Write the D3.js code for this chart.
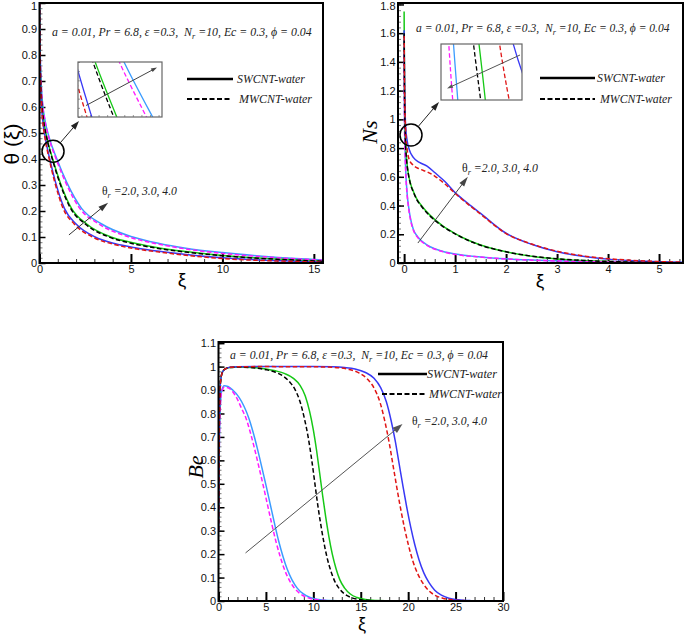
<!DOCTYPE html>
<html><head><meta charset="utf-8">
<script src="https://cdn.jsdelivr.net/npm/d3@7"></script>
<style>body{margin:0;background:#fff} svg{display:block} text{white-space:pre}</style>
</head><body>
<svg id="c" width="685" height="634"></svg>
<script>
// ---------------- DATA ----------------
const FLUIDS = ['SWCNT-water', 'MWCNT-water'];
const THETA_R = ['2.0', '3.0', '4.0'];
const PARAMS = ['a = 0.01, Pr = 6.8, \u03B5 =0.3,  N', 'r', ' =10, Ec = 0.3, \u03D5 = 0.04'];

// Panel (a): theta(xi)
const theta_SW_2 = [[0,1],[0.0135,0.9],[0.04,0.8],[0.08,0.71],[0.16,0.62],[0.3,0.55],[0.54,0.48],[0.95,0.4],[1.49,0.31],[2.3,0.21],[3.4,0.15],[5.1,0.1],[6.55,0.075],[8,0.057],[10,0.04],[12,0.027],[14,0.017],[15.5,0.012]];
const theta_MW_2 = [[0,1],[0.013,0.9],[0.039,0.8],[0.078,0.71],[0.156,0.62],[0.29,0.55],[0.52,0.48],[0.91,0.4],[1.43,0.31],[2.2,0.21],[3.25,0.15],[4.9,0.1],[6.55,0.072],[8,0.054],[10,0.037],[12,0.025],[14,0.016],[15.5,0.011]];
const theta_SW_3 = [[0,1],[0.0103,0.9],[0.031,0.8],[0.062,0.71],[0.124,0.62],[0.227,0.55],[0.41,0.48],[0.72,0.4],[1.13,0.31],[1.75,0.21],[2.58,0.15],[3.9,0.1],[5.1,0.078],[6.55,0.058],[8,0.044],[10,0.029],[12,0.019],[14,0.012],[15.5,0.008]];
const theta_MW_3 = [[0,1],[0.01,0.9],[0.03,0.8],[0.06,0.71],[0.12,0.62],[0.22,0.55],[0.4,0.48],[0.7,0.4],[1.1,0.31],[1.7,0.21],[2.5,0.15],[3.8,0.1],[5,0.076],[6.5,0.056],[8,0.042],[10,0.028],[12,0.018],[14,0.011],[15.5,0.007]];
const theta_SW_4 = [[0,1],[0.008,0.9],[0.024,0.8],[0.048,0.71],[0.096,0.62],[0.176,0.55],[0.32,0.48],[0.56,0.4],[0.88,0.31],[1.36,0.21],[2.0,0.15],[3.04,0.1],[4.1,0.075],[5.3,0.058],[6.55,0.045],[8,0.033],[10,0.02],[12,0.012],[14,0.007],[15.5,0.004]];
const theta_MW_4 = [[0,1],[0.0076,0.9],[0.023,0.8],[0.046,0.71],[0.091,0.62],[0.167,0.55],[0.3,0.48],[0.53,0.4],[0.84,0.31],[1.29,0.21],[1.9,0.15],[2.9,0.1],[4.0,0.073],[5.2,0.055],[6.55,0.042],[8,0.03],[10,0.017],[12,0.01],[14,0.006],[15.5,0.003]];

// Panel (b): Ns
const ns_SW_2 = [[0,1.5],[0.005,1.1],[0.015,0.85],[0.03,0.66],[0.06,0.48],[0.085,0.4],[0.12,0.32],[0.18,0.235],[0.25,0.19],[0.31,0.165],[0.4,0.138],[0.5,0.115],[0.75,0.082],[1.0,0.062],[1.5,0.042],[2.0,0.029],[2.5,0.021],[3.0,0.015],[4.0,0.007],[5.47,0.002]];
const ns_MW_2 = [[0,1.45],[0.005,1.05],[0.015,0.82],[0.03,0.64],[0.06,0.47],[0.085,0.39],[0.12,0.31],[0.18,0.23],[0.25,0.185],[0.31,0.16],[0.4,0.134],[0.5,0.112],[0.75,0.08],[1.0,0.06],[1.5,0.041],[2.0,0.028],[2.5,0.02],[3.0,0.014],[4.0,0.007],[5.47,0.002]];
const ns_SW_3 = [[0,1.75],[0.005,1.4],[0.012,1.1],[0.025,0.88],[0.05,0.72],[0.08,0.63],[0.12,0.56],[0.18,0.5],[0.25,0.445],[0.35,0.395],[0.5,0.335],[0.75,0.26],[1.0,0.205],[1.25,0.16],[1.5,0.125],[2.0,0.078],[2.5,0.047],[3.0,0.028],[3.5,0.017],[4.0,0.01],[4.5,0.006],[5.47,0.002]];
const ns_MW_3 = [[0,1.6],[0.005,1.3],[0.012,1.05],[0.025,0.86],[0.05,0.71],[0.08,0.625],[0.12,0.555],[0.18,0.495],[0.25,0.44],[0.35,0.39],[0.5,0.33],[0.75,0.257],[1.0,0.203],[1.25,0.158],[1.5,0.124],[2.0,0.078],[2.5,0.048],[3.0,0.029],[3.5,0.018],[4.0,0.011],[4.5,0.006],[5.47,0.002]];
const ns_SW_4 = [[0,1.62],[0.01,1.25],[0.03,0.95],[0.06,0.85],[0.1,0.79],[0.18,0.735],[0.3,0.7],[0.45,0.675],[0.6,0.63],[0.8,0.567],[1.0,0.49],[1.25,0.415],[1.5,0.345],[2.0,0.207],[2.5,0.13],[3.0,0.078],[3.5,0.047],[4.0,0.027],[4.5,0.015],[5.0,0.008],[5.47,0.005]];
const ns_MW_4 = [[0,1.58],[0.01,1.2],[0.03,0.92],[0.06,0.79],[0.1,0.72],[0.18,0.68],[0.3,0.655],[0.45,0.635],[0.6,0.605],[0.8,0.55],[1.0,0.485],[1.25,0.41],[1.5,0.34],[2.0,0.205],[2.5,0.132],[3.0,0.082],[3.5,0.05],[4.0,0.03],[4.5,0.018],[5.0,0.01],[5.47,0.006]];

// Panel (c): Be
const be_SW_2 = [[0,0.3],[0.1,0.7],[0.2,0.84],[0.35,0.9],[0.6,0.918],[1.0,0.915],[1.5,0.9],[2.15,0.87],[2.7,0.83],[3.2,0.78],[3.65,0.72],[4.1,0.65],[4.57,0.57],[5.03,0.49],[5.47,0.41],[5.91,0.33],[6.35,0.255],[6.8,0.19],[7.25,0.135],[7.75,0.09],[8.3,0.055],[8.95,0.03],[9.65,0.015],[10.55,0.006],[11.65,0.002],[13.5,0],[30,0]];
const be_MW_2 = [[0,0.3],[0.1,0.7],[0.2,0.84],[0.35,0.895],[0.6,0.912],[1.0,0.91],[1.5,0.893],[2.0,0.86],[2.45,0.82],[2.9,0.78],[3.35,0.72],[3.8,0.65],[4.27,0.57],[4.73,0.49],[5.17,0.41],[5.61,0.33],[6.05,0.255],[6.5,0.19],[6.95,0.135],[7.45,0.09],[8.0,0.055],[8.65,0.03],[9.35,0.015],[10.25,0.006],[11.35,0.002],[13,0],[30,0]];
const be_SW_3 = [[0,0.3],[0.1,0.8],[0.2,0.93],[0.4,0.975],[0.7,0.99],[1.2,0.996],[2,0.998],[4,0.995],[5,0.99],[6,0.982],[7,0.97],[7.9,0.95],[8.6,0.92],[9.15,0.875],[9.6,0.81],[10.0,0.73],[10.35,0.64],[10.67,0.545],[10.98,0.45],[11.3,0.36],[11.64,0.275],[12.0,0.2],[12.38,0.14],[12.8,0.09],[13.3,0.055],[13.9,0.03],[14.6,0.015],[15.5,0.006],[16.7,0.002],[18.5,0],[30,0]];
const be_MW_3 = [[0,0.3],[0.1,0.8],[0.2,0.93],[0.4,0.975],[0.7,0.99],[1.2,0.996],[2,0.998],[4,0.994],[5,0.987],[6,0.976],[6.8,0.96],[7.5,0.935],[8.1,0.9],[8.6,0.85],[9.05,0.78],[9.45,0.7],[9.8,0.61],[10.12,0.515],[10.43,0.42],[10.75,0.335],[11.09,0.255],[11.45,0.185],[11.83,0.13],[12.25,0.085],[12.75,0.052],[13.35,0.028],[14.05,0.014],[15.0,0.005],[16.2,0.0015],[18,0],[30,0]];
const be_SW_4 = [[0,0.3],[0.1,0.8],[0.2,0.93],[0.4,0.975],[0.7,0.99],[1.2,0.997],[2,0.999],[4,1.0],[10,1.0],[12,0.999],[13.3,0.996],[14.4,0.99],[15.5,0.975],[16.4,0.95],[17.1,0.91],[17.7,0.85],[18.2,0.77],[18.65,0.68],[19.05,0.585],[19.45,0.49],[19.85,0.4],[20.27,0.315],[20.7,0.24],[21.15,0.175],[21.65,0.12],[22.2,0.078],[22.8,0.046],[23.5,0.025],[24.3,0.012],[25.3,0.005],[26.6,0.0015],[28.5,0],[30,0]];
const be_MW_4 = [[0,0.3],[0.1,0.8],[0.2,0.93],[0.4,0.975],[0.7,0.99],[1.2,0.997],[2,0.999],[4,1.0],[9,0.9995],[11.5,0.998],[12.7,0.995],[13.75,0.988],[14.85,0.972],[15.75,0.945],[16.45,0.905],[17.05,0.845],[17.55,0.765],[18.0,0.675],[18.4,0.58],[18.8,0.485],[19.2,0.395],[19.62,0.31],[20.05,0.235],[20.5,0.17],[21.0,0.117],[21.55,0.076],[22.15,0.045],[22.85,0.024],[23.65,0.012],[24.65,0.005],[26,0.0015],[28,0],[30,0]];

// ---------------- STYLE / LAYOUT ----------------
const SANS = '"Liberation Sans", Arial, Helvetica, sans-serif';
const SERIF = '"Liberation Serif", "Times New Roman", Times, serif';
const COLOR = { 'SW2':'#3b9bff', 'MW2':'#ff1aff', 'SW3':'#16c816', 'MW3':'#000000', 'SW4':'#3838f5', 'MW4':'#e01515' };
const svg = d3.select('#c');

function seriesList(sw2, mw2, sw3, mw3, sw4, mw4) {
  return [
    {key:'SW2', f:0, d:sw2}, {key:'SW3', f:0, d:sw3}, {key:'SW4', f:0, d:sw4},
    {key:'MW2', f:1, d:mw2}, {key:'MW3', f:1, d:mw3}, {key:'MW4', f:1, d:mw4}
  ];
}

function fitText(t, w) {
  const L = t.node().getComputedTextLength();
  const fs = parseFloat(t.style('font-size'));
  const k = w / L;
  t.style('font-size', (fs * k) + 'px');
  t.selectAll('tspan.sub').style('font-size', (fs * k * 0.7) + 'px');
}

function arrow(g, p0, p1, color, hl, hw, sw) {
  const dx = p1[0]-p0[0], dy = p1[1]-p0[1], L = Math.hypot(dx, dy), ux = dx/L, uy = dy/L;
  const bx = p1[0]-ux*hl, by = p1[1]-uy*hl;
  g.append('line').attr('x1',p0[0]).attr('y1',p0[1]).attr('x2',bx+ux*1).attr('y2',by+uy*1)
    .attr('stroke',color).attr('stroke-width',sw||1);
  g.append('path').attr('d',`M${p1[0]},${p1[1]}L${bx-uy*hw/2},${by+ux*hw/2}L${bx+uy*hw/2},${by-ux*hw/2}Z`).attr('fill',color);
}

let clipId = 0;
function drawCurves(g, x, y, list, rect, sw) {
  const id = 'clip' + (clipId++);
  g.append('clipPath').attr('id', id).append('rect')
    .attr('x', rect[0]).attr('y', rect[1]).attr('width', rect[2]-rect[0]).attr('height', rect[3]-rect[1]);
  const line = d3.line().x(d => x(d[0])).y(d => y(d[1])).curve(d3.curveMonotoneX);
  const cg = g.append('g').attr('clip-path', `url(#${id})`);
  list.forEach(s => {
    cg.append('path').attr('d', line(s.d)).attr('fill','none')
      .attr('stroke', COLOR[s.key]).attr('stroke-width', sw)
      .attr('stroke-dasharray', s.f === 1 ? '4.5,2.5' : null);
  });
}

function paramText(g, xPos, yBase, width) {
  const t = g.append('text').attr('x', xPos).attr('y', yBase)
    .style('font-family', SERIF).style('font-style','italic').style('font-size','11.5px').attr('fill','#222');
  t.append('tspan').text(PARAMS[0]);
  t.append('tspan').attr('class','sub').attr('dy', 3).style('font-size','8px').text(PARAMS[1]);
  t.append('tspan').attr('dy', -3).text(PARAMS[2]);
  fitText(t, width);
}

function thetaText(g, xPos, yBase, width) {
  const t = g.append('text').attr('x', xPos).attr('y', yBase)
    .style('font-family', SERIF).style('font-style','italic').style('font-size','12px').attr('fill','#222');
  t.append('tspan').style('font-style','normal').text('\u03B8');
  t.append('tspan').attr('class','sub').attr('dy', 3).style('font-size','8.4px').text('r');
  t.append('tspan').attr('dy', -3).text(' =' + THETA_R.join(', '));
  fitText(t, width);
}

function legend(g, items) {
  items.forEach((it, i) => {
    g.append('line').attr('x1', it.x0).attr('x2', it.x1).attr('y1', it.y).attr('y2', it.y)
      .attr('stroke','#000').attr('stroke-width', i === 0 ? 2.4 : 2)
      .attr('stroke-dasharray', i === 1 ? '5,2.5' : null);
    const t = g.append('text').attr('x', it.tx).attr('y', it.y + 4)
      .style('font-family', SERIF).style('font-style','italic').style('font-size','12px').attr('fill','#222')
      .text(FLUIDS[i]);
    fitText(t, it.tw);
  });
}

function panel(c) {
  const g = svg.append('g');
  const x = d3.scaleLinear().domain(c.xdom).range([c.x0, c.x1]);
  const y = d3.scaleLinear().domain(c.ydom).range([c.y1, c.y0]);
  const styleAxis = (s, sw, color) => {
    s.attr('font-size', null).attr('font-family', null);
    s.select('.domain').remove();
    s.selectAll('line').attr('stroke', color).attr('stroke-width', sw);
    s.selectAll('text').style('font-family', SANS).style('font-size', '11px').attr('fill', '#111');
  };
  g.append('g').attr('transform', `translate(0,${c.y1})`)
    .call(d3.axisBottom(x).tickValues(c.xMinor).tickSize(-4).tickFormat(''))
    .call(s => styleAxis(s, 1, '#333'));
  g.append('g').attr('transform', `translate(${c.x0},0)`)
    .call(d3.axisLeft(y).tickValues(c.yMinor).tickSize(-3).tickFormat(''))
    .call(s => styleAxis(s, 1, '#777'));
  g.append('g').attr('transform', `translate(0,${c.y1})`)
    .call(d3.axisBottom(x).tickValues(c.xMajor).tickSize(-9).tickPadding(2.5).tickFormat(d => String(d)))
    .call(s => styleAxis(s, 2, '#000'));
  g.append('g').attr('transform', `translate(${c.x0},0)`)
    .call(d3.axisLeft(y).tickValues(c.yMajor).tickSize(-6).tickPadding(2.5).tickFormat(d => String(+d.toFixed(1))))
    .call(s => {
      styleAxis(s, 1.5, '#000');
      // keep the topmost label inside the picture
      s.selectAll('.tick text').attr('dy', d => y(d) < 5.5 ? (5.5 - y(d) + 3.5) + 'px' : '0.32em');
    });
  drawCurves(g, x, y, c.series, [c.x0, c.y0, c.x1, c.y1], 1.5);
  g.append('rect').attr('x', c.x0).attr('y', c.y0).attr('width', c.x1 - c.x0).attr('height', c.y1 - c.y0)
    .attr('fill','none').attr('stroke','#000').attr('stroke-width', 2);
  return {g, x, y};
}

function inset(g, r, xdom, ydom, list, ticks) {
  const xi = d3.scaleLinear().domain(xdom).range([r[0], r[2]]);
  const yi = d3.scaleLinear().domain(ydom).range([r[3], r[1]]);
  g.append('rect').attr('x', r[0]).attr('y', r[1]).attr('width', r[2]-r[0]).attr('height', r[3]-r[1]).attr('fill','#fff');
  if (ticks) {
    const ax = g.append('g').attr('transform', `translate(0,${r[3]})`)
      .call(d3.axisBottom(xi).ticks(8).tickSize(-2).tickFormat(''));
    ax.select('.domain').remove(); ax.selectAll('line').attr('stroke','#999');
    const ay = g.append('g').attr('transform', `translate(${r[0]},0)`)
      .call(d3.axisLeft(yi).ticks(6).tickSize(-2).tickFormat(''));
    ay.select('.domain').remove(); ay.selectAll('line').attr('stroke','#999');
  }
  drawCurves(g, xi, yi, list, r, 1.3);
  g.append('rect').attr('x', r[0]).attr('y', r[1]).attr('width', r[2]-r[0]).attr('height', r[3]-r[1])
    .attr('fill','none').attr('stroke','#666').attr('stroke-width', 1.2);
}

function circleArrow(g, cx, cy, rad, target) {
  g.append('circle').attr('cx', cx).attr('cy', cy).attr('r', rad).attr('fill','none').attr('stroke','#000').attr('stroke-width',1.5);
  const dx = target[0]-cx, dy = target[1]-cy, L = Math.hypot(dx, dy);
  arrow(g, [cx + dx/L*rad, cy + dy/L*rad], target, '#222', 9, 6, 1);
}

// ---------------- PANEL (a) ----------------
const A_SERIES = seriesList(theta_SW_2, theta_MW_2, theta_SW_3, theta_MW_3, theta_SW_4, theta_MW_4);
const A = panel({
  x0: 39.5, x1: 323, y0: 3, y1: 263, xdom: [0, 15.5], ydom: [0, 1],
  xMajor: [0, 5, 10, 15], xMinor: d3.range(0, 16, 1),
  yMajor: d3.range(0, 11).map(i => i / 10), yMinor: d3.range(0, 51).map(i => i / 50),
  series: A_SERIES
});
inset(A.g, [78, 62, 162, 117], [0.43, 0.92], [0.415, 0.445], A_SERIES, true);
arrow(A.g, [86, 105.5], [157, 67.5], '#444', 6, 4, 1);
circleArrow(A.g, A.x(0.74), A.y(0.43), 11, [79, 121]);
paramText(A.g, 52, 36, 260);
legend(A.g, [{x0:187, x1:233, y:79, tx:237, tw:68}, {x0:187, x1:231, y:99, tx:239, tw:73}]);
arrow(A.g, [A.x(1.61), A.y(0.108)], [A.x(3.75), A.y(0.232)], '#333', 10, 6, 1);
thetaText(A.g, 102, 195, 75);
A.g.append('text').attr('transform', 'translate(19,144) rotate(-90)').attr('text-anchor','middle')
  .style('font-family', SANS).style('font-size','21px').text('\u03B8 (\u03BE)');
A.g.append('text').attr('x', 182).attr('y', 286).attr('text-anchor','middle')
  .style('font-family', SANS).style('font-size','19px').text('\u03BE');

// ---------------- PANEL (b) ----------------
const B_SERIES = seriesList(ns_SW_2, ns_MW_2, ns_SW_3, ns_MW_3, ns_SW_4, ns_MW_4);
const B = panel({
  x0: 398, x1: 683, y0: 3, y1: 263, xdom: [-0.12, 5.47], ydom: [0, 1.81],
  xMajor: [0, 1, 2, 3, 4, 5], xMinor: d3.range(0, 28).map(i => i / 5),
  yMajor: d3.range(0, 10).map(i => i / 5), yMinor: d3.range(0, 46).map(i => i / 25),
  series: B_SERIES
});
inset(B.g, [441, 44, 522, 100], [0.006, 0.04], [0.885, 0.915], B_SERIES, false);
arrow(B.g, [520, 55], [447, 88.5], '#555', 6, 4, 1);
circleArrow(B.g, B.x(0.135), B.y(0.891), 11, [439, 102]);
paramText(B.g, 416, 32, 254);
legend(B.g, [{x0:540, x1:595, y:78, tx:597, tw:68}, {x0:540, x1:595, y:99, tx:600, tw:72}]);
arrow(B.g, [B.x(0.27), B.y(0.139)], [B.x(1.25), B.y(0.6)], '#444', 10, 6, 1);
thetaText(B.g, 462, 172, 76);
B.g.append('text').attr('transform', 'translate(377,132) rotate(-90)').attr('text-anchor','middle')
  .style('font-family', SERIF).style('font-style','italic').style('font-size','22px').text('Ns');
B.g.append('text').attr('x', 540).attr('y', 287).attr('text-anchor','middle')
  .style('font-family', SANS).style('font-size','19px').text('\u03BE');

// ---------------- PANEL (c) ----------------
const C = panel({
  x0: 218.5, x1: 503, y0: 342, y1: 601, xdom: [0, 30], ydom: [0, 1.105],
  xMajor: d3.range(0, 31, 5), xMinor: d3.range(0, 31, 1),
  yMajor: d3.range(0, 12).map(i => i / 10), yMinor: d3.range(0, 56).map(i => i / 50),
  series: seriesList(be_SW_2, be_MW_2, be_SW_3, be_MW_3, be_SW_4, be_MW_4)
});
paramText(C.g, 230, 359, 258);
legend(C.g, [{x0:378, x1:427, y:374, tx:427, tw:70}, {x0:382, x1:427, y:394, tx:429, tw:73}]);
arrow(C.g, [C.x(2.85), C.y(0.205)], [C.x(19.4), C.y(0.755)], '#555', 10, 7, 1);
thetaText(C.g, 412, 425, 75);
C.g.append('text').attr('transform', 'translate(203,467) rotate(-90)').attr('text-anchor','middle')
  .style('font-family', SERIF).style('font-style','italic').style('font-size','22px').text('Be');
C.g.append('text').attr('x', 362).attr('y', 630).attr('text-anchor','middle')
  .style('font-family', SANS).style('font-size','18px').text('\u03BE');
</script>
</body></html>
